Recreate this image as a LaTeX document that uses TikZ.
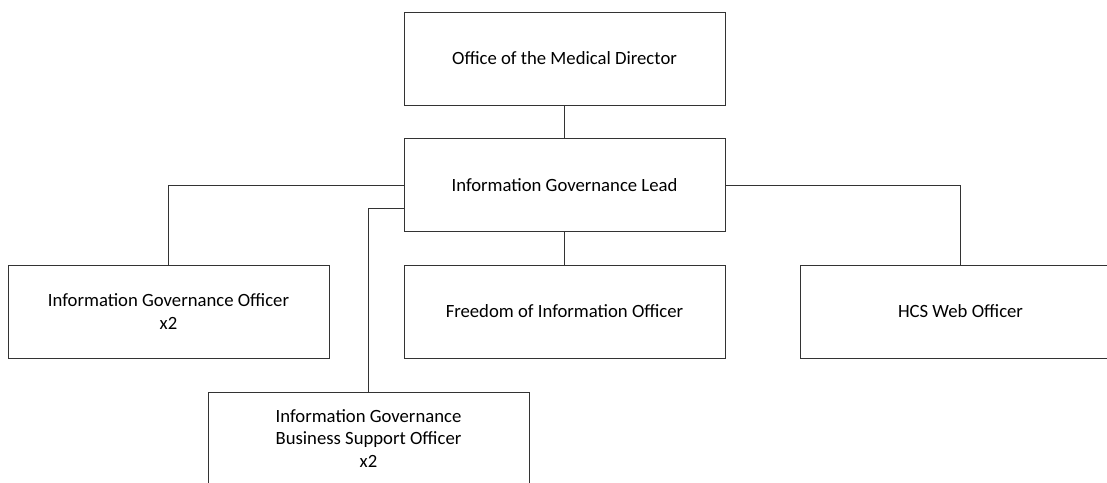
\documentclass[tikz,border=0pt]{standalone}
\usepackage{fontspec}
\setmainfont{Carlito}

\begin{document}
\begin{tikzpicture}[x=1pt, y=-1pt,
		post/.style={rectangle, draw=black!80, line width=0.9pt, minimum width=321pt, minimum height=93pt, inner sep=0pt, align=center, font=\fontsize{18.7}{22.7}\selectfont},
		link/.style={draw=black!80, line width=0.9pt}]
			\clip (0, 0) rectangle (1107, 482);

			% Nodes
			\node[post] (omd) at (564.5, 58.5) {Office of the Medical Director};
			\node[post] (lead) at (564.5, 185) {Information Governance Lead};
			\node[post] (igo) at (168.5, 311.5) {Information Governance Officer\\x2};
			\node[post] (foi) at (564.5, 311.5) {Freedom of Information Officer};
			\node[post] (web) at (960.5, 311.5) {HCS Web Officer};
			\node[post] (bso) at (368.5, 438.5) {Information Governance\\Business Support Officer\\x2};

			% Lines
			\draw[link] (omd) -- (lead);
			\draw[link] (lead) -- (foi);
			\draw[link] (lead.west) -| (igo.north);
			\draw[link] (lead.east) -| (web.north);
			\draw[link] ([yshift=-23pt]lead.west) -| (bso.north);
		\end{tikzpicture}
\end{document}
